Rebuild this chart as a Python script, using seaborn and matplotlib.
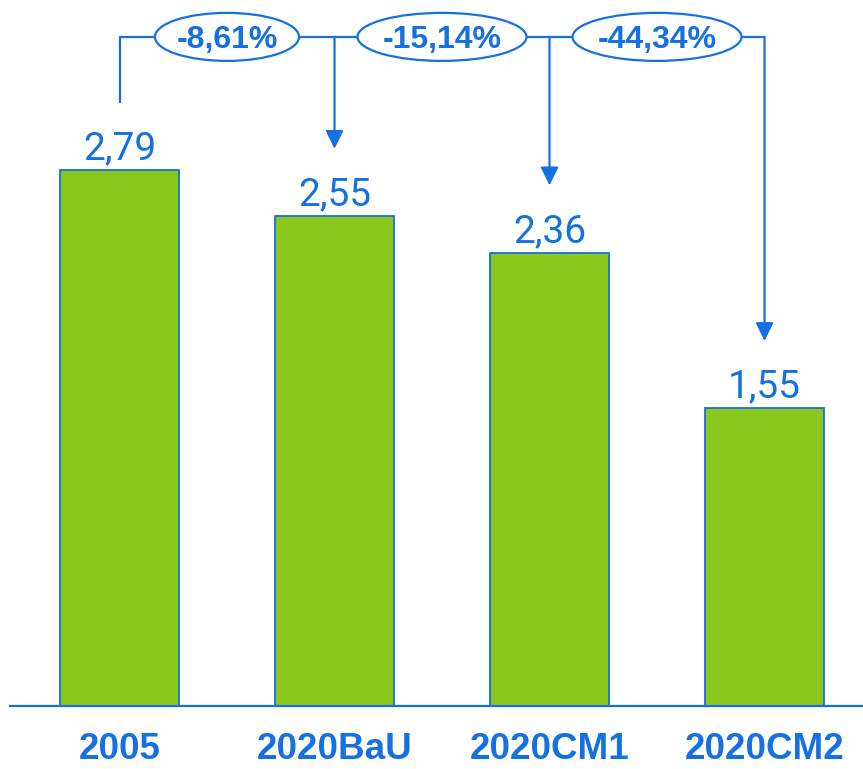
import matplotlib
matplotlib.use("Agg")
import matplotlib.pyplot as plt
import seaborn as sns
import pandas as pd
from matplotlib.patches import Ellipse, FancyArrowPatch

categories = ["2005", "2020BaU", "2020CM1", "2020CM2"]
values = [2.79, 2.55, 2.36, 1.55]
value_labels = ["2,79", "2,55", "2,36", "1,55"]
change_labels = ["-8,61%", "-15,14%", "-44,34%"]

BLUE = "#1570E2"
GREEN = "#8BC81E"

sns.set_theme(style="white")
fig = plt.figure(figsize=(8.63, 7.69), dpi=100)
ax = fig.add_axes([0, 0, 1, 1])

df = pd.DataFrame({"cat": categories, "val": values})
sns.barplot(data=df, x="cat", y="val", ax=ax, color=GREEN, saturation=1,
            width=0.553, edgecolor=BLUE, linewidth=1.3, zorder=2)

ax.set_xlim(-0.5558, 3.458)
ax.set_ylim(-0.328, 3.675)

# value labels
ax.bar_label(ax.containers[0], labels=value_labels, padding=2,
             fontsize=28, color=BLUE, family="Roboto", fontweight="normal")

# baseline & category labels
for s in ["top", "right", "left"]:
    ax.spines[s].set_visible(False)
ax.spines["bottom"].set_position(("data", 0))
ax.spines["bottom"].set_color(BLUE)
ax.spines["bottom"].set_linewidth(1.6)
ax.spines["bottom"].set_bounds(-0.51, 3.458)
ax.set_yticks([])
ax.set_xlabel("")
ax.set_ylabel("")
ax.tick_params(axis="x", length=0, pad=19)
ax.set_xticks(range(len(categories)))
ax.set_xticklabels(categories, fontsize=26.5, fontweight="bold",
                   family="Liberation Sans", color=BLUE)

# connectors
top_y = 3.483
gap = 0.35
lw = 1.6
ax.plot([0, 0, len(values) - 1], [values[0] + gap, top_y, top_y],
        color=BLUE, lw=lw, zorder=3, solid_capstyle="butt")
for i in range(1, len(values)):
    arr = FancyArrowPatch((i, top_y), (i, values[i] + gap),
                          arrowstyle="-|>,head_length=0.55,head_width=0.27",
                          mutation_scale=20, color=BLUE, lw=lw, zorder=3,
                          shrinkA=0, shrinkB=0)
    ax.add_patch(arr)

widths = [0.67, 0.786, 0.786]
for i, lab in enumerate(change_labels):
    e = Ellipse((i + 0.5, top_y), widths[i], 0.25, facecolor="white",
                edgecolor=BLUE, lw=lw, zorder=4)
    ax.add_patch(e)
    ax.text(i + 0.5, top_y, lab, ha="center", va="center_baseline",
            fontsize=23, fontweight="bold", family="Liberation Sans",
            color=BLUE, zorder=5)

fig.savefig("out.png", dpi=100)
